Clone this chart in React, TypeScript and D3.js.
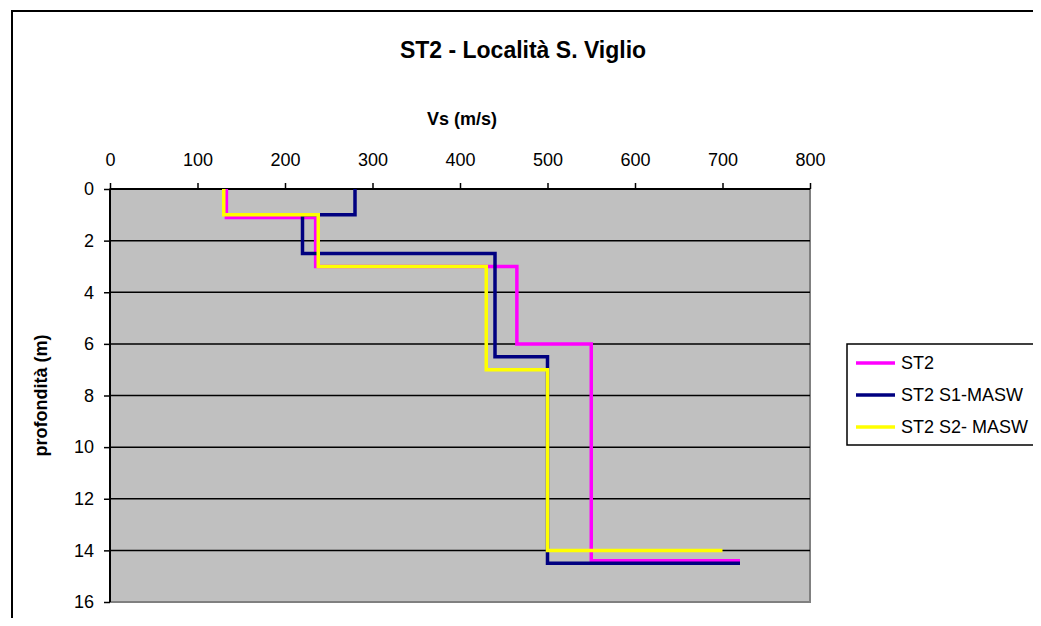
import { useEffect, useRef } from "react";
import * as d3 from "d3";

// Step profiles (Vs in m/s, depth in m)
const st2Vs = [133, 133, 235, 235, 465, 465, 550, 550, 720];
const st2Depth = [0, 1.1, 1.1, 3, 3, 6, 6, 14.4, 14.4];

const s1Vs = [280, 280, 220, 220, 440, 440, 500, 500, 720];
const s1Depth = [0, 1, 1, 2.5, 2.5, 6.5, 6.5, 14.5, 14.5];

const s2Vs = [130, 130, 238, 238, 430, 430, 500, 500, 700];
const s2Depth = [0, 1, 1, 3, 3, 7, 7, 14, 14];

const seriesNames = ["ST2", "ST2 S1-MASW", "ST2 S2- MASW"];
const seriesColors = ["#ff00ff", "#000080", "#ffff00"];

const xTicks = [0, 100, 200, 300, 400, 500, 600, 700, 800];
const yTicks = [0, 2, 4, 6, 8, 10, 12, 14, 16];

export default function App() {
  const svgRef = useRef<SVGSVGElement>(null);

  useEffect(() => {
    const width = 1041;
    const height = 626;
    const plot = { left: 110, top: 189, right: 810, bottom: 602 };
    const font = "Liberation Sans, Arial, sans-serif";

    const svg = d3.select(svgRef.current);
    svg.selectAll("*").remove();
    svg.attr("width", width).attr("height", height);

    // outer chart frame
    svg
      .append("rect")
      .attr("x", 12)
      .attr("y", 11)
      .attr("width", width + 20)
      .attr("height", height + 20)
      .attr("fill", "#fff")
      .attr("stroke", "#000")
      .attr("stroke-width", 2);

    const x = d3.scaleLinear().domain([0, 800]).range([plot.left, plot.right]);
    const y = d3.scaleLinear().domain([0, 16]).range([plot.top, plot.bottom]);

    // plot area
    svg
      .append("rect")
      .attr("x", plot.left)
      .attr("y", plot.top)
      .attr("width", plot.right - plot.left)
      .attr("height", plot.bottom - plot.top)
      .attr("fill", "#c0c0c0")
      .attr("stroke", "#808080")
      .attr("stroke-width", 2);

    // gridlines
    svg
      .append("g")
      .selectAll("line")
      .data(yTicks.slice(1, -1))
      .enter()
      .append("line")
      .attr("x1", plot.left)
      .attr("x2", plot.right)
      .attr("y1", (d) => y(d))
      .attr("y2", (d) => y(d))
      .attr("stroke", "#000")
      .attr("stroke-width", 1.5);

    // Axes
    const xAxis = svg
      .append("g")
      .attr("transform", `translate(0,${plot.top})`)
      .call(d3.axisTop(x).tickValues(xTicks).tickSize(6).tickPadding(17));
    xAxis
      .selectAll("text")
      .attr("fill", "#000")
      .attr("font-size", "18")
      .attr("font-family", font);

    const yAxis = svg
      .append("g")
      .attr("transform", `translate(${plot.left},0)`)
      .call(d3.axisLeft(y).tickValues(yTicks).tickSize(6).tickPadding(10));
    yAxis
      .selectAll("text")
      .attr("fill", "#000")
      .attr("font-size", "18")
      .attr("font-family", font);

    svg.selectAll(".domain").attr("stroke", "#000").attr("stroke-width", 2);
    svg.selectAll(".tick line").attr("stroke", "#000").attr("stroke-width", 1.5);
    xAxis.select(".domain").attr("d", `M${plot.left},0H${plot.right}`);
    yAxis.select(".domain").attr("d", `M0,${plot.top}V${plot.bottom}`);

    // series
    const series = [
      { vs: st2Vs, depth: st2Depth },
      { vs: s1Vs, depth: s1Depth },
      { vs: s2Vs, depth: s2Depth },
    ];
    const line = d3
      .line<number>()
      .x((_, j) => x(0) + j);
    void line;
    series.forEach((s, i) => {
      const pts = s.vs.map((v, j) => [x(v), y(s.depth[j])] as [number, number]);
      svg
        .append("path")
        .attr("d", d3.line()(pts))
        .attr("fill", "none")
        .attr("stroke", seriesColors[i])
        .attr("stroke-width", 3.5)
        .attr("stroke-linejoin", "miter");
    });

    // Titles
    svg
      .append("text")
      .attr("x", 523)
      .attr("y", 58)
      .attr("text-anchor", "middle")
      .attr("font-size", "23")
      .attr("font-weight", "bold")
      .attr("font-family", font)
      .text("ST2 - Località S. Viglio");

    svg
      .append("text")
      .attr("x", (plot.left + plot.right) / 2 + 2)
      .attr("y", 125)
      .attr("text-anchor", "middle")
      .attr("font-size", "18")
      .attr("font-weight", "bold")
      .attr("font-family", font)
      .text("Vs (m/s)");

    svg
      .append("text")
      .attr("transform", "rotate(-90)")
      .attr("x", -(plot.top + plot.bottom) / 2)
      .attr("y", 47)
      .attr("text-anchor", "middle")
      .attr("font-size", "18")
      .attr("font-weight", "bold")
      .attr("font-family", font)
      .text("profondità (m)");

    // Legend
    const lg = svg.append("g").attr("transform", "translate(847,344)");
    lg.append("rect")
      .attr("width", 220)
      .attr("height", 101)
      .attr("fill", "#fff")
      .attr("stroke", "#000")
      .attr("stroke-width", 1.5);
    seriesNames.forEach((name, i) => {
      const cy = 19 + i * 32;
      lg.append("line")
        .attr("x1", 9)
        .attr("x2", 48)
        .attr("y1", cy)
        .attr("y2", cy)
        .attr("stroke", seriesColors[i])
        .attr("stroke-width", 3.5);
      lg.append("text")
        .attr("x", 54)
        .attr("y", cy + 6)
        .attr("font-size", "18")
        .attr("font-family", font)
        .text(name);
    });
  }, []);

  return (
    <div style={{ margin: -8 }}>
      <svg ref={svgRef} style={{ display: "block" }} />
    </div>
  );
}
